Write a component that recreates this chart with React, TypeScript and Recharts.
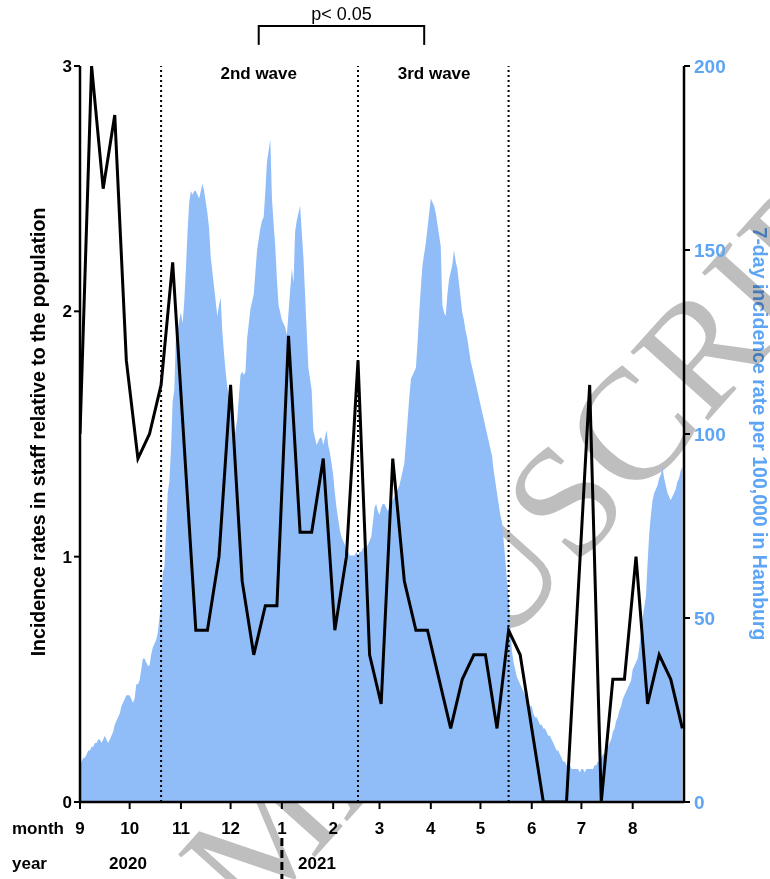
import React from 'react';
import {
  ComposedChart,
  Area,
  Line,
  XAxis,
  YAxis,
  ReferenceLine,
  ReferenceDot,
  Customized,
} from 'recharts';

// Month ticks: day offset from 1 Sep 2020 and the label shown under the axis
const monthStartDays = [0, 30, 61, 91, 122, 153, 181, 212, 242, 273, 303, 334];
const monthLabels = ['9', '10', '11', '12', '1', '2', '3', '4', '5', '6', '7', '8'];

// Boundaries of the 2nd and 3rd wave (days since 1 Sep 2020)
const waveBoundaryDays = [49, 168, 259];
const waveNames = ['2nd wave', '3rd wave'];
const waveLabelDays = [108, 214];

// Comparison bracket between the two wave peaks
const bracketDays = [108, 208];
const bracketText = 'p< 0.05';

// Year separator (1 Jan 2021)
const yearBreakDay = 122;
const yearLabels = ['2020', '2021'];

// Daily 7-day incidence per 100,000 in Hamburg, 1 Sep 2020 – 31 Aug 2021
const hamburgIncidence = [
  10, 11, 12, 12, 13, 14, 14, 15, 15, 16, 16, 17, 17, 16, 17, 18, 17, 16, 17, 18,
  19, 21, 22, 23, 24, 26, 27, 28, 29, 29, 29, 28, 27, 28, 32, 32, 33, 36, 39, 39,
  38, 37, 37, 40, 42, 43, 44, 46, 50, 54, 62, 64, 74, 84, 87, 96, 109, 112, 127, 128,
  131, 133, 130, 136, 145, 155, 163, 166, 165, 166, 166, 165, 164, 166, 168, 166, 163, 160, 156, 148,
  144, 140, 136, 132, 135, 137, 128, 122, 117, 113, 110, 106, 101, 98, 101, 104, 110, 116, 117, 116,
  117, 126, 130, 134, 136, 138, 144, 150, 153, 156, 158, 159, 166, 174, 177, 180, 164, 157, 151, 142,
  135, 133, 131, 130, 129, 127, 133, 139, 145, 141, 155, 158, 160, 162, 155, 148, 138, 128, 118, 115,
  112, 101, 99, 97, 98, 99, 99, 97, 99, 101, 97, 95, 92, 89, 84, 80, 77, 74, 72, 71,
  70, 68, 68, 67, 67, 67, 67, 68, 67, 68, 68, 69, 69, 69, 70, 71, 72, 76, 80, 81,
  79, 78, 80, 81, 81, 80, 79, 80, 81, 82, 83, 84, 85, 86, 88, 90, 92, 98, 104, 110,
  115, 116, 117, 118, 125, 133, 140, 146, 149, 152, 156, 160, 164, 163, 162, 160, 157, 154, 151, 135,
  133, 132, 138, 142, 144, 146, 150, 147, 145, 141, 137, 133, 131, 128, 126, 123, 120, 118, 116, 114,
  112, 110, 108, 106, 104, 102, 100, 98, 96, 94, 90, 87, 84, 81, 78, 76, 71, 66, 60, 56,
  48, 41, 38, 36, 34, 33, 32, 31, 30, 29, 28, 27, 26, 26, 24, 23, 23, 22, 21, 21,
  20, 20, 19, 18, 18, 17, 16, 15, 14, 14, 13, 12, 11, 11, 10, 10, 10, 9, 9, 9,
  9, 9, 8, 9, 9, 8, 9, 9, 9, 9, 9, 10, 10, 11, 11, 12, 13, 13, 14, 15,
  16, 17, 19, 20, 22, 23, 25, 26, 28, 29, 30, 31, 32, 33, 36, 37, 38, 39, 42, 46,
  50, 53, 56, 65, 73, 78, 82, 84, 85, 86, 88, 89, 91, 88, 86, 84, 83, 82, 83, 84,
  85, 87, 88, 90, 91,
];

// Weekly incidence ratio staff / population
const staffRatio = [
  1.5, 3.0, 2.5, 2.8, 1.8, 1.4, 1.5, 1.7, 2.2, 1.45, 0.7, 0.7, 1.0, 1.7, 0.9, 0.6, 0.8, 0.8,
  1.9, 1.1, 1.1, 1.4, 0.7, 1.0, 1.8, 0.6, 0.4, 1.4, 0.9, 0.7, 0.7, 0.5, 0.3, 0.5, 0.6, 0.6,
  0.3, 0.7, 0.6, 0.3, 0, 0, 0, 0.85, 1.7, 0, 0.5, 0.5, 1.0, 0.4, 0.6, 0.5, 0.3,
];
const staffWeekStep = 7;

const leftTicks = [0, 1, 2, 3];
const rightTicks = [0, 50, 100, 150, 200];

const leftTitle = 'Incidence rates in staff relative to the population';
const rightTitle = '7-day incidence rate per 100,000 in Hamburg';
const watermark = 'MANUSCRIPT';

const incidenceRows = hamburgIncidence.map((v, i) => ({ day: i, incidence: v }));
const staffRows = staffRatio.map((v, i) => ({ day: i * staffWeekStep, ratio: v }));

const BLUE_FILL = '#90bdf8';
const BLUE_TEXT = '#5ea5f6';
const SANS = "'Liberation Sans', Arial, Helvetica, sans-serif";

const W = 770;
const H = 879;

function Overlay() {
  return (
    <g>
      <text
        x={38}
        y={432}
        transform="rotate(-90 38 432)"
        textAnchor="middle"
        dominantBaseline="central"
        fontFamily={SANS}
        fontWeight={700}
        fontSize={19.5}
        fill="#000"
      >
        {leftTitle}
      </text>
      <text
        x={760}
        y={434}
        transform="rotate(90 760 434)"
        textAnchor="middle"
        dominantBaseline="central"
        fontFamily={SANS}
        fontWeight={700}
        fontSize={19.5}
        fill={BLUE_TEXT}
      >
        {rightTitle}
      </text>
      <text x={12} y={834} fontFamily={SANS} fontWeight={700} fontSize={17} fill="#000">
        month
      </text>
      <text x={12} y={869} fontFamily={SANS} fontWeight={700} fontSize={17} fill="#000">
        year
      </text>
      <text x={128} y={869} textAnchor="middle" fontFamily={SANS} fontWeight={700} fontSize={17} fill="#000">
        {yearLabels[0]}
      </text>
      <text x={317} y={869} textAnchor="middle" fontFamily={SANS} fontWeight={700} fontSize={17} fill="#000">
        {yearLabels[1]}
      </text>
      <text
        x={252}
        y={927}
        transform="rotate(-48 252 927)"
        fontFamily="'Liberation Serif', 'DejaVu Serif', serif"
        fontSize={158}
        fill="#bebebe"
        style={{ mixBlendMode: 'multiply' }}
      >
        {watermark}
      </text>
    </g>
  );
}

export default function App() {
  return (
    <div style={{ position: 'absolute', left: 0, top: 0, width: W, height: H, background: '#fff', fontFamily: SANS }}>
      <ComposedChart
        width={W}
        height={H}
        margin={{ top: 66, right: 0, bottom: 47, left: 0 }}
        style={{ fontFamily: SANS }}
      >
        <XAxis
          dataKey="day"
          type="number"
          domain={[0, 365]}
          ticks={monthStartDays}
          tickFormatter={(d: number) => monthLabels[monthStartDays.indexOf(d)] ?? ''}
          height={30}
          axisLine={{ stroke: '#000', strokeWidth: 2.5 }}
          tickLine={{ stroke: '#000', strokeWidth: 2 }}
          tickSize={7}
          tickMargin={13}
          tick={{ fill: '#000', fontSize: 17, fontWeight: 700 }}
          allowDataOverflow
        />
        <YAxis
          yAxisId="left"
          domain={[0, 3]}
          ticks={leftTicks}
          width={80}
          axisLine={{ stroke: '#000', strokeWidth: 2.5 }}
          tickLine={{ stroke: '#000', strokeWidth: 2 }}
          tickSize={6}
          tickMargin={2}
          tick={{ fill: '#000', fontSize: 17, fontWeight: 700 }}
          allowDataOverflow
        />
        <YAxis
          yAxisId="right"
          orientation="right"
          domain={[0, 200]}
          ticks={rightTicks}
          width={86}
          axisLine={{ stroke: '#000', strokeWidth: 2.5 }}
          tickLine={{ stroke: '#000', strokeWidth: 2 }}
          tickSize={6}
          tickMargin={4}
          tick={{ fill: BLUE_TEXT, fontSize: 19, fontWeight: 700 }}
          allowDataOverflow
        />
        <Area
          yAxisId="right"
          data={incidenceRows}
          dataKey="incidence"
          type="linear"
          stroke="none"
          fill={BLUE_FILL}
          fillOpacity={1}
          isAnimationActive={false}
        />
        {waveBoundaryDays.map((d) => (
          <ReferenceLine
            key={d}
            yAxisId="left"
            x={d}
            stroke="#000"
            strokeWidth={2}
            strokeDasharray="2 3"
          />
        ))}
        {waveNames.map((name, i) => (
          <ReferenceDot
            key={name}
            yAxisId="left"
            x={waveLabelDays[i]}
            y={2.972}
            r={0}
            fill="none"
            stroke="none"
            ifOverflow="visible"
            label={{ value: name, position: 'center', fill: '#000', fontSize: 17, fontWeight: 700 }}
          />
        ))}
        <ReferenceLine
          yAxisId="left"
          segment={[
            { x: bracketDays[0], y: 3.163 },
            { x: bracketDays[1], y: 3.163 },
          ]}
          stroke="#000"
          strokeWidth={2}
          ifOverflow="visible"
        />
        {bracketDays.map((d) => (
          <ReferenceLine
            key={d}
            yAxisId="left"
            segment={[
              { x: d, y: 3.167 },
              { x: d, y: 3.086 },
            ]}
            stroke="#000"
            strokeWidth={2}
            ifOverflow="visible"
          />
        ))}
        <ReferenceDot
          yAxisId="left"
          x={(bracketDays[0] + bracketDays[1]) / 2}
          y={3.212}
          r={0}
          fill="none"
          stroke="none"
          ifOverflow="visible"
          label={{ value: bracketText, position: 'center', fill: '#000', fontSize: 18 }}
        />
        <ReferenceLine
          yAxisId="left"
          segment={[
            { x: yearBreakDay, y: -0.147 },
            { x: yearBreakDay, y: -0.314 },
          ]}
          stroke="#000"
          strokeWidth={3}
          strokeDasharray="8 4"
          ifOverflow="visible"
        />
        <Line
          yAxisId="left"
          data={staffRows}
          dataKey="ratio"
          type="linear"
          stroke="#000"
          strokeWidth={3}
          dot={false}
          activeDot={false}
          isAnimationActive={false}
        />
        <Customized component={<Overlay />} />
      </ComposedChart>
    </div>
  );
}
